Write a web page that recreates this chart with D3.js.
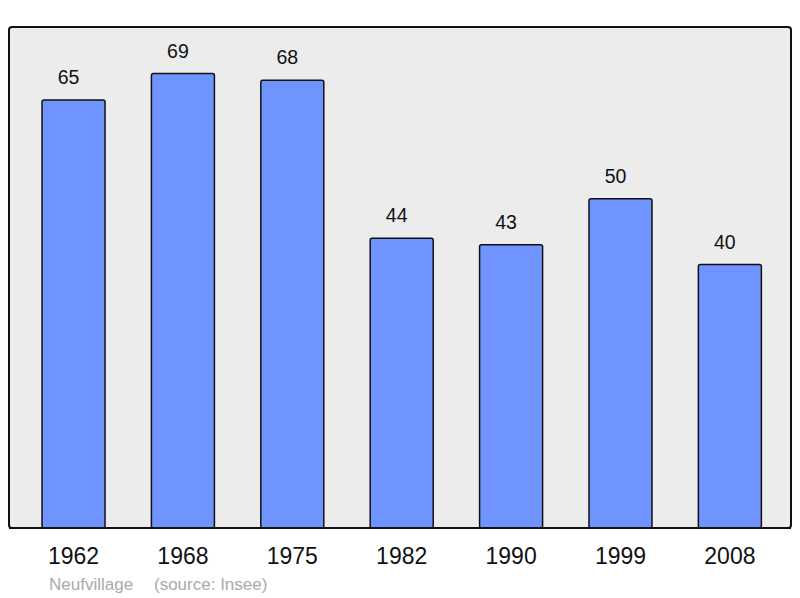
<!DOCTYPE html>
<html><head><meta charset="utf-8">
<script src="https://cdn.jsdelivr.net/npm/d3@7"></script>
<style>body{margin:0;background:#fff}svg{display:block}text{font-family:"Liberation Sans",Arial,sans-serif}</style>
</head><body>
<script>
const years = ["1962","1968","1975","1982","1990","1999","2008"];
const population = [65,69,68,44,43,50,40];
const town = "Neufvillage";
const source = "(source: Insee)";

const W=800,H=598;
const svg=d3.select("body").append("svg").attr("width",W).attr("height",H);
const frame={x0:9,y0:27,x1:791,y1:528};
svg.append("rect").attr("x",frame.x0).attr("y",frame.y0)
  .attr("width",frame.x1-frame.x0).attr("height",frame.y1-frame.y0)
  .attr("rx",3).attr("fill","#ececec").attr("stroke","#111").attr("stroke-width",2);

const x=d3.scaleBand().domain(years).range([9.2,794.2]).paddingInner(0.424).paddingOuter(0.3);
const y=d3.scaleLinear().domain([0,76.08]).range([frame.y1,frame.y0]);

const g=svg.append("g");
g.selectAll("rect.bar").data(years).join("rect").attr("class","bar")
  .attr("x",d=>x(d)).attr("width",x.bandwidth())
  .attr("y",(d,i)=>y(population[i])).attr("height",(d,i)=>y(0)-y(population[i]))
  .attr("rx",2).attr("fill","#7094ff").attr("stroke","#111").attr("stroke-width",1.5);

g.selectAll("text.val").data(years).join("text").attr("class","val")
  .attr("x",d=>x(d)+x.bandwidth()/2-5).attr("y",(d,i)=>y(population[i])-16)
  .attr("text-anchor","middle").attr("font-size",19.5).attr("fill","#111")
  .text((d,i)=>population[i]);

svg.append("line").attr("x1",frame.x0).attr("x2",frame.x1).attr("y1",frame.y1).attr("y2",frame.y1)
  .attr("stroke","#111").attr("stroke-width",2);

const xAxis=d3.axisBottom(x).tickSize(0).tickPadding(0);
const ax=svg.append("g").attr("transform",`translate(0,${frame.y1})`).call(xAxis);
ax.select(".domain").remove();
ax.selectAll("text").attr("font-size",23).attr("fill","#111").attr("dy",0).attr("y",36)
  .attr("font-family","Liberation Sans, Arial, sans-serif");

svg.append("text").attr("x",49).attr("y",590).attr("font-size",17).attr("fill","#aaa").text(town);
svg.append("text").attr("x",154).attr("y",590).attr("font-size",17).attr("fill","#aaa").text(source);
</script>
</body></html>
